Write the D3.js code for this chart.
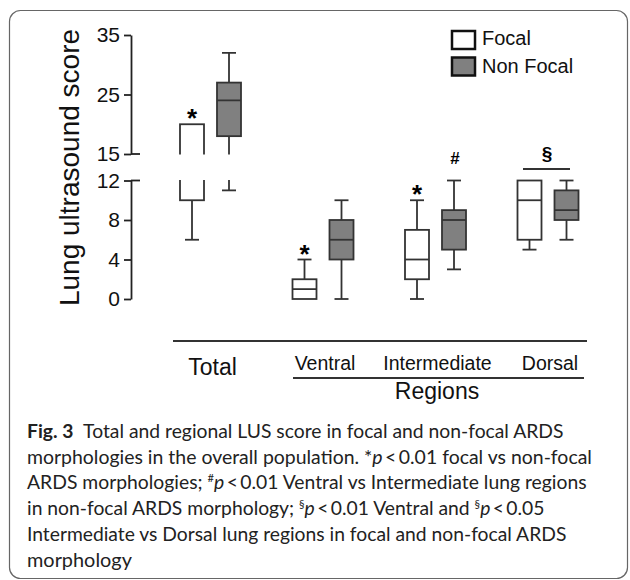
<!doctype html>
<html>
<head>
<style>
  body {margin:0; background:#fff;}
  svg {display:block; font-family:"Liberation Sans", Arial, sans-serif;}
  .box rect, .box line {stroke:#333; stroke-width:1.8;}
  .axis path, .axis line {stroke:#222; stroke-width:1.8;}
  .axis text {fill:#111;}
</style>
<script src="https://d3js.org/d3.v7.min.js"></script>
</head>
<body>
<script>
// data
var groups = ["Total", "Ventral", "Intermediate", "Dorsal"];
var series = ["Focal", "Non Focal"];
// [min, q1, median, q3, max]
var focalStats    = [[6,10,13,20,20], [0,0,1,2,4], [0,2,4,7,10], [5,6,10,12,12]];
var nonFocalStats = [[11,18,24,27,32], [0,4,6,8,10], [3,5,8,9,12], [6,8,9,11,12]];
var upperTicks = [15, 25, 35];
var lowerTicks = [0, 4, 8, 12];
var starGroups = ["Total", "Ventral", "Intermediate"];

var captionLines = [
  [["b","Fig. 3"], ["n","\u2002Total and regional LUS score in focal and non-focal ARDS"]],
  [["n","morphologies in the overall population. *"], ["i","p"], ["n","\u2009<\u20090.01 focal vs non-focal"]],
  [["n","ARDS morphologies; "], ["s","#"], ["i","p"], ["n","\u2009<\u20090.01 Ventral vs Intermediate lung regions"]],
  [["n","in non-focal ARDS morphology; "], ["s","\u00a7"], ["i","p"], ["n","\u2009<\u20090.01 Ventral and "], ["s","\u00a7"], ["i","p"], ["n","\u2009<\u20090.05"]],
  [["n","Intermediate vs Dorsal lung regions in focal and non-focal ARDS"]],
  [["n","morphology"]]
];
var captionWidths = [537, 565, 560, 518, 540, 105];

var W = 630, H = 580;
var svg = d3.select("body").append("svg").attr("width", W).attr("height", H);

// frame
svg.append("rect").attr("x", 9.5).attr("y", 10.5).attr("width", 618).attr("height", 568)
  .attr("rx", 11).attr("fill", "none").attr("stroke", "#666").attr("stroke-width", 1.2);

var x = d3.scalePoint().domain(groups).range([210.5, 548]);
var xs = d3.scalePoint().domain(series).range([-18.5, 18.5]);
var yUp = d3.scaleLinear().domain([15, 35]).range([154, 35]);
var yLo = d3.scaleLinear().domain([0, 12]).range([299, 180.5]);

var defs = svg.append("defs");
defs.append("clipPath").attr("id", "clipUp").append("rect")
  .attr("x", 0).attr("y", 0).attr("width", W).attr("height", yUp(15) + 0.5);
defs.append("clipPath").attr("id", "clipLo").append("rect")
  .attr("x", 0).attr("y", yLo(12) - 0.5).attr("width", W).attr("height", 200);

// y axis in two pieces
function drawAxis(scale, ticks, breakVal) {
  var g = svg.append("g").attr("class", "axis").attr("transform", "translate(131,0)")
    .call(d3.axisLeft(scale).tickValues(ticks).tickSize(7).tickPadding(4).tickSizeOuter(0));
  g.attr("font-family", null).attr("font-size", 21);
  g.append("line").attr("x1", 0).attr("x2", 9).attr("y1", scale(breakVal)).attr("y2", scale(breakVal));
}
drawAxis(yUp, upperTicks, 15);
drawAxis(yLo, lowerTicks, 12);

svg.append("text").attr("transform", "translate(79,167.5) rotate(-90)")
  .attr("text-anchor", "middle").attr("font-size", 28).attr("fill", "#111")
  .text("Lung ultrasound score");

// boxes
var rows = [];
groups.forEach(function(g, i) {
  rows.push({group: g, series: "Focal", v: focalStats[i]});
  rows.push({group: g, series: "Non Focal", v: nonFocalStats[i]});
});

function drawBox(g, d, y) {
  var v = d.v, hw = 12, cw = 7;
  if (v[0] < v[1]) {
    g.append("line").attr("y1", y(v[0])).attr("y2", y(v[1]));
    g.append("line").attr("x1", -cw).attr("x2", cw).attr("y1", y(v[0])).attr("y2", y(v[0]));
  }
  if (v[4] > v[3]) {
    g.append("line").attr("y1", y(v[4])).attr("y2", y(v[3]));
    g.append("line").attr("x1", -cw).attr("x2", cw).attr("y1", y(v[4])).attr("y2", y(v[4]));
  }
  g.append("rect").attr("x", -hw).attr("width", 2 * hw)
    .attr("y", y(v[3])).attr("height", y(v[1]) - y(v[3]))
    .attr("fill", d.series == "Focal" ? "#fff" : "#808080");
  g.append("line").attr("x1", -hw).attr("x2", hw).attr("y1", y(v[2])).attr("y2", y(v[2]));
}

rows.forEach(function(d) {
  var cx = x(d.group) + xs(d.series);
  if (d.group == "Total") {
    drawBox(svg.append("g").attr("clip-path", "url(#clipUp)").append("g").attr("class", "box")
      .attr("transform", "translate(" + cx + ",0)"), d, yUp);
    drawBox(svg.append("g").attr("clip-path", "url(#clipLo)").append("g").attr("class", "box")
      .attr("transform", "translate(" + cx + ",0)"), d, yLo);
  } else {
    drawBox(svg.append("g").attr("class", "box").attr("transform", "translate(" + cx + ",0)"), d, yLo);
  }
});

// significance marks
rows.filter(function(d) { return d.series == "Focal" && starGroups.indexOf(d.group) >= 0; })
  .forEach(function(d) {
    var y = d.group == "Total" ? yUp : yLo;
    svg.append("text").attr("x", x(d.group) + xs(d.series)).attr("y", y(d.v[4]) + 3)
      .attr("text-anchor", "middle").attr("font-size", 26).attr("font-weight", "bold").text("*");
  });
var hashRow = rows.filter(function(d) { return d.group == "Intermediate" && d.series == "Non Focal"; })[0];
svg.append("text").attr("x", x("Intermediate") + xs("Non Focal") + 1).attr("y", yLo(hashRow.v[4]) - 17)
  .attr("text-anchor", "middle").attr("font-size", 17).attr("font-weight", "bold").text("#");
svg.append("text").attr("x", x("Dorsal") - 1).attr("y", 160)
  .attr("text-anchor", "middle").attr("font-size", 19).attr("font-weight", "bold").text("\u00a7");
svg.append("line").attr("x1", x("Dorsal") - 25).attr("x2", x("Dorsal") + 22)
  .attr("y1", 169).attr("y2", 169).attr("stroke", "#333").attr("stroke-width", 1.8);

// legend
series.forEach(function(s, i) {
  svg.append("rect").attr("x", 452).attr("y", 31 + i * 26.5).attr("width", 23).attr("height", 18)
    .attr("fill", s == "Focal" ? "#fff" : "#808080").attr("stroke", "#111").attr("stroke-width", 2.5);
  svg.append("text").attr("x", 482).attr("y", 45 + i * 28).attr("font-size", 20).attr("fill", "#111").text(s);
});

// category labels
svg.append("line").attr("x1", 173).attr("x2", 587).attr("y1", 341).attr("y2", 341)
  .attr("stroke", "#333").attr("stroke-width", 1.8);
svg.append("line").attr("x1", 293).attr("x2", 584).attr("y1", 378).attr("y2", 378)
  .attr("stroke", "#333").attr("stroke-width", 1.8);
groups.forEach(function(g) {
  svg.append("text").attr("x", x(g) + 2).attr("y", g == "Total" ? 375 : 370)
    .attr("text-anchor", "middle").attr("font-size", g == "Total" ? 23 : 19.5).attr("fill", "#111").text(g);
});
svg.append("text").attr("x", 437).attr("y", 399).attr("text-anchor", "middle")
  .attr("font-size", 23).attr("fill", "#111").text("Regions");

// caption
captionLines.forEach(function(line, i) {
  var t = svg.append("text").attr("font-family", "Lato, 'Open Sans', sans-serif")
    .attr("font-size", 19).attr("fill", "#222");
  var shift = 0;
  line.forEach(function(seg) {
    var ts = t.append("tspan").text(seg[1]);
    if (seg[0] == "b") ts.attr("font-weight", "bold");
    if (seg[0] == "i") ts.attr("font-style", "italic");
    if (seg[0] == "s") { ts.attr("font-size", 11).attr("dy", -7 - shift); shift = -7; }
    else if (shift) { ts.attr("dy", 7); shift = 0; }
  });
  var len = t.node().getComputedTextLength();
  var sx = captionWidths[i] / len;
  t.attr("transform", "translate(27," + (438 + i * 25.7) + ") scale(" + sx + ",1)");
});
</script>
</body>
</html>
